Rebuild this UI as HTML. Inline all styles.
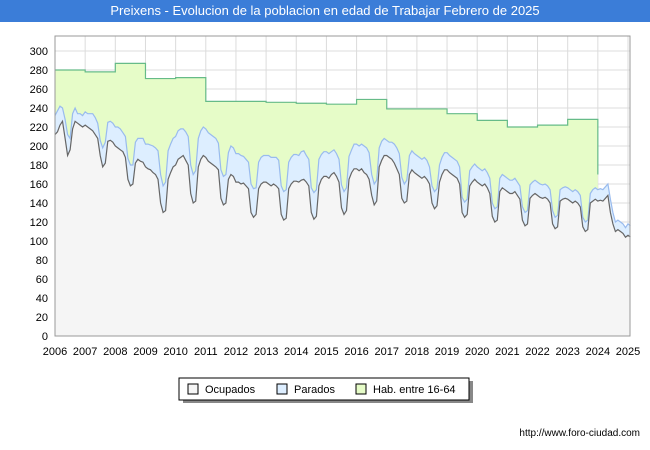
<!DOCTYPE html>
<html><head><meta charset="utf-8"><style>
body{margin:0;width:650px;height:450px;background:#fff;font-family:"Liberation Sans",sans-serif;overflow:hidden}
#title{position:absolute;left:0;top:0;width:650px;height:22px;background:#3b7dd8;color:#fff;font-size:13px;line-height:22px;text-align:center}
#url{position:absolute;right:10px;top:428px;font-size:10px;color:#000}
</style></head><body>
<div id="title">Preixens - Evolucion de la poblacion en edad de Trabajar Febrero de 2025</div>
<svg id="chart" width="650" height="450" style="position:absolute;left:0;top:0"></svg>
<div id="url">http://www.foro-ciudad.com</div>
<script>
const years=[2006,2007,2008,2009,2010,2011,2012,2013,2014,2015,2016,2017,2018,2019,2020,2021,2022,2023,2024,2025];
const yTicks=[0,20,40,60,80,100,120,140,160,180,200,220,240,260,280,300];
const habYears=[2006,2007,2008,2009,2010,2011,2012,2013,2014,2015,2016,2017,2018,2019,2020,2021,2022,2023];
const habValues=[280,278,287,271,272,247,247,246,245,244,249,239,239,234,227,220,222,228];
const habLast=170;
const ocupados=[
212,215,222,226,208,190,196,218,226,224,222,220,
222,220,218,216,212,208,190,178,182,205,206,204,
200,198,196,194,188,165,158,160,182,186,184,183,
178,176,175,172,170,165,140,130,132,165,172,178,
180,186,188,190,185,180,150,140,142,178,186,190,
188,184,182,180,178,175,145,138,140,165,170,168,
162,162,160,161,158,155,130,125,128,155,160,162,
162,160,158,160,158,155,128,122,124,155,160,163,
163,162,164,165,162,158,130,123,126,158,165,168,
168,166,170,172,168,162,135,128,132,165,172,176,
176,174,176,172,170,165,148,138,142,178,185,190,
190,188,186,182,176,170,145,140,142,170,175,172,
170,168,166,168,165,160,140,134,137,162,170,175,
175,172,170,168,166,160,130,125,128,158,162,165,
162,160,158,160,156,150,126,120,122,152,156,154,
152,150,150,152,148,144,122,116,118,145,148,150,
148,146,145,146,144,140,118,113,115,142,144,145,
144,142,140,142,140,136,115,110,112,140,142,144,
142,143,142,145,148,130,118,110,112,110,108,104,
106,104];
const parados=[
20,22,20,14,20,22,12,16,14,10,12,12,
14,14,16,18,18,16,16,20,22,20,20,20,
20,22,22,20,22,22,22,20,22,22,24,25,
24,26,26,28,28,30,30,28,30,30,30,30,
30,30,30,28,30,30,30,30,32,30,30,30,
30,30,30,30,30,28,30,30,30,28,30,30,
30,30,30,28,28,28,30,30,28,28,28,28,
28,30,30,28,30,30,30,30,30,28,28,28,
28,28,30,30,28,28,26,28,28,28,26,26,
26,26,24,24,24,24,24,24,24,24,24,26,
26,26,26,28,28,28,22,22,22,20,20,18,
16,16,18,20,22,22,22,20,22,20,20,20,
20,20,20,20,20,18,18,18,18,18,18,18,
18,18,18,18,18,18,16,16,16,16,16,16,
16,16,16,16,16,16,14,14,14,14,14,14,
14,14,14,14,14,14,14,14,14,14,14,14,
14,14,14,14,14,14,14,12,12,12,12,12,
12,12,12,12,12,12,10,10,10,10,12,12,
12,12,12,12,12,14,12,10,10,10,10,10,
12,12];
const NS='http://www.w3.org/2000/svg';
const svg=document.getElementById('chart');
const X0=55,X1=628,Y0=336,YT=51;
function xs(t){return X0+(t-2006)/(2025-2006)*(X1-X0);}
function ys(v){return Y0-(v/300)*(Y0-YT);}
function mk(tag,attrs,name,inter){const e=document.createElementNS(NS,tag);for(const k in attrs)e.setAttribute(k,attrs[k]);svg.appendChild(e);return e;}
mk('rect',{x:X0,y:36,width:575,height:300,fill:'#fff'},'plot-background',false);
// gridlines
yTicks.forEach(v=>{mk('line',{x1:X0,x2:630,y1:ys(v),y2:ys(v),stroke:'#dcdcdc','stroke-width':1},'y-gridline',false);
 const t=mk('text',{x:X0-7,y:ys(v)+4,'text-anchor':'end','font-size':11,fill:'#000'},'y-tick-label',false);t.textContent=v;});
years.forEach(yr=>{mk('line',{x1:xs(yr),x2:xs(yr),y1:36,y2:Y0,stroke:'#dcdcdc','stroke-width':1},'x-gridline',false);
 const t=mk('text',{x:xs(yr),y:355,'text-anchor':'middle','font-size':11,fill:'#000'},'x-tick-label',false);t.textContent=yr;});
// hab area
let hp=[];habYears.forEach((yr,i)=>{hp.push([xs(yr),ys(habValues[i])]);hp.push([xs(yr+1),ys(habValues[i])]);});
hp.push([xs(2024),ys(habLast)]);
const hpts=hp.map(p=>p.join(',')).join(' ');
mk('polygon',{points:hpts+' '+xs(2024)+','+Y0+' '+xs(2006)+','+Y0,fill:'#e6fcc8'},'hab-area',false);
// parados area
const N=ocupados.length;
const tp=ocupados.map((o,i)=>[xs(2006+i/12),ys(o+parados[i])]);
const op=ocupados.map((o,i)=>[xs(2006+i/12),ys(o)]);
const s=a=>a.map(p=>p[0].toFixed(1)+','+p[1].toFixed(1)).join(' ');
const xe=xs(2006+(N-1)/12);
mk('polygon',{points:s(tp)+' '+xe+','+Y0+' '+X0+','+Y0,fill:'#ddeeff'},'parados-area',false);
mk('polygon',{points:s(op)+' '+xe+','+Y0+' '+X0+','+Y0,fill:'#f5f5f5'},'ocupados-area',false);
mk('polyline',{points:hpts,fill:'none',stroke:'#66bb88','stroke-width':1.2},'hab-line',false);
mk('polyline',{points:s(tp),fill:'none',stroke:'#99bbee','stroke-width':1.2},'parados-line',false);
mk('polyline',{points:s(op),fill:'none',stroke:'#666','stroke-width':1.2},'ocupados-line',false);
mk('rect',{x:X0,y:36,width:575,height:300,fill:'none',stroke:'#999'},'plot-border',false);
// legend
mk('rect',{x:183,y:381,width:290,height:22,fill:'#888'},'legend-shadow',false);
mk('rect',{x:179,y:378,width:290,height:22,fill:'#fff',stroke:'#000'},'legend',false);
const lg=[['Ocupados','#f5f5f5',188],['Parados','#ddeeff',277],['Hab. entre 16-64','#e6fcc8',356]];
lg.forEach(l=>{mk('rect',{x:l[2],y:384,width:10,height:10,fill:l[1],stroke:'#000'},'legend-swatch',false);
 const t=mk('text',{x:l[2]+17,y:393,'font-size':11,fill:'#000'},'legend-entry',false);t.textContent=l[0];});
</script>
</body></html>
